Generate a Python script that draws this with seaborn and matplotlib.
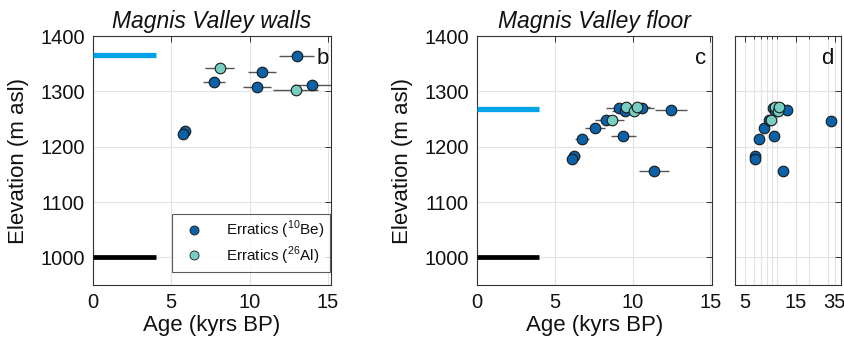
import matplotlib
matplotlib.use("Agg")
import matplotlib.pyplot as plt
from matplotlib.ticker import FixedLocator, NullFormatter
import seaborn as sns
import numpy as np

# ---------------- data ----------------
# Magnis Valley walls
walls_be_age = [5.88, 5.77, 7.73, 10.8, 10.47, 13.0, 13.97]
walls_be_elev = [1228, 1223, 1317, 1335, 1308, 1363, 1311]
walls_be_err = [0.3, 0.3, 0.7, 0.9, 0.9, 1.1, 1.2]
walls_al_age = [8.08, 12.95]
walls_al_elev = [1342, 1303]
walls_al_err = [0.9, 1.45]

# Magnis Valley floor
floor_be_age = [6.24, 6.13, 6.73, 7.56, 8.29, 9.4, 9.1, 9.53, 10.6, 12.46, 11.37, 32.1]
floor_be_elev = [1184, 1178, 1214, 1234, 1248, 1220, 1270, 1264, 1270, 1266, 1156, 1247]
floor_be_err = [0.4, 0.35, 0.45, 0.65, 0.7, 0.8, 0.8, 0.85, 0.75, 1.05, 0.95, 2.0]
floor_al_age = [8.65, 9.58, 10.1, 10.3]
floor_al_elev = [1248, 1272, 1264, 1272]
floor_al_err = [0.8, 0.75, 0.7, 0.8]

# reference lines (elevation, age extent)
walls_blue_line = 1366
floor_blue_line = 1268
black_line = 1000
line_age = [0, 4]

yticks = [1000, 1100, 1200, 1300, 1400]
xticks_lin = [0, 5, 10, 15]
xticks_log = [5, 15, 35]
xminor_log = [6, 7, 8, 9, 10, 20, 30]

BLUE = "#0b62a8"
AQUA = "#78cfc1"
LINE_BLUE = "#00a2e8"
ERR = "#555555"

sns.set_style("white")
plt.rcParams["font.family"] = ["Liberation Sans", "DejaVu Sans"]
plt.rcParams["mathtext.fontset"] = "custom"
plt.rcParams["mathtext.rm"] = "Liberation Sans"
plt.rcParams["text.color"] = "#111111"
plt.rcParams["axes.labelcolor"] = "#111111"
plt.rcParams["xtick.color"] = "#111111"
plt.rcParams["ytick.color"] = "#111111"

W, H = 845, 346
fig = plt.figure(figsize=(W / 100, H / 100), dpi=100)


def fr(l, r, t, b):
    return [l / W, 1 - b / H, (r - l) / W, (b - t) / H]


axb = fig.add_axes(fr(93, 331, 36, 285))
axc = fig.add_axes(fr(477, 712, 36, 285))
axd = fig.add_axes(fr(735, 841, 36, 285))


def style(ax):
    ax.set_ylim(950, 1400)
    ax.set_yticks(yticks)
    ax.grid(True, color="#e3e3e3", lw=0.8)
    ax.set_axisbelow(True)
    for s in ax.spines.values():
        s.set_color("#333333")
        s.set_linewidth(0.8)
    ax.tick_params(direction="in", top=True, right=True, length=4,
                   width=0.7, labelsize=14.5, color="#333333", pad=6)


def draw(ax, be_age, be_elev, be_err, al_age, al_elev, al_err, errbars=True):
    if errbars:
        ax.errorbar(be_age, be_elev, xerr=be_err, fmt="none", ecolor=ERR,
                    elinewidth=1.0, capsize=0, zorder=2)
        ax.errorbar(al_age, al_elev, xerr=al_err, fmt="none", ecolor=ERR,
                    elinewidth=1.0, capsize=0, zorder=2)
    sns.scatterplot(x=be_age, y=be_elev, ax=ax, color=BLUE, s=58,
                    edgecolor="#1a1a1a", linewidth=0.8, zorder=3, legend=False)
    sns.scatterplot(x=al_age, y=al_elev, ax=ax, color=AQUA, s=58,
                    edgecolor="#1a1a1a", linewidth=0.8, zorder=4, legend=False)


# ---- panel b ----
style(axb)
axb.plot(line_age, [walls_blue_line] * 2, color=LINE_BLUE, lw=3.8, solid_capstyle="butt", zorder=3)
axb.plot(line_age, [black_line] * 2, color="black", lw=3.4, solid_capstyle="butt", zorder=3)
draw(axb, walls_be_age, walls_be_elev, walls_be_err, walls_al_age, walls_al_elev, walls_al_err)
axb.set_xlim(0, 15.2)
axb.set_xticks(xticks_lin)
axb.set_xlabel("Age (kyrs BP)", fontsize=16, labelpad=2)
axb.set_ylabel("Elevation (m asl)", fontsize=16, labelpad=8)
axb.set_title("Magnis Valley walls", fontsize=16.5, style="italic", pad=6)
axb.text(0.99, 0.95, "b", transform=axb.transAxes, ha="right", va="top", fontsize=16)
handles = [
    plt.Line2D([], [], marker="o", ls="none", color=BLUE, markeredgecolor="#1a1a1a",
               markeredgewidth=0.6, markersize=6.5),
    plt.Line2D([], [], marker="o", ls="none", color=AQUA, markeredgecolor="#1a1a1a",
               markeredgewidth=0.6, markersize=6.5),
]
leg = axb.legend(handles, ["Erratics ($^{10}$Be)", "Erratics ($^{26}$Al)"],
                 loc="lower right", bbox_to_anchor=(0.995, 0.052), borderaxespad=0,
                 fontsize=11, frameon=True, fancybox=False, handletextpad=1.0,
                 handlelength=2.2, borderpad=0.35, labelspacing=0.2)
leg.get_frame().set_edgecolor("#333333")
leg.get_frame().set_linewidth(0.8)

# ---- panel c ----
style(axc)
axc.plot(line_age, [floor_blue_line] * 2, color=LINE_BLUE, lw=3.8, solid_capstyle="butt", zorder=3)
axc.plot(line_age, [black_line] * 2, color="black", lw=3.4, solid_capstyle="butt", zorder=3)
draw(axc, floor_be_age, floor_be_elev, floor_be_err, floor_al_age, floor_al_elev, floor_al_err)
axc.set_xlim(0, 15.1)
axc.set_xticks(xticks_lin)
axc.set_xlabel("Age (kyrs BP)", fontsize=16, labelpad=2)
axc.set_ylabel("Elevation (m asl)", fontsize=16, labelpad=8)
axc.set_title("Magnis Valley floor", fontsize=16.5, style="italic", pad=6)
axc.text(0.975, 0.95, "c", transform=axc.transAxes, ha="right", va="top", fontsize=16)

# ---- panel d ----
style(axd)
draw(axd, floor_be_age, floor_be_elev, floor_be_err, floor_al_age, floor_al_elev, floor_al_err,
     errbars=False)
axd.set_xscale("log")
axd.set_xlim(4, 40)
axd.xaxis.set_major_locator(FixedLocator(xticks_log))
axd.set_xticklabels([str(t) for t in xticks_log])
axd.xaxis.set_minor_locator(FixedLocator(xminor_log))
axd.xaxis.set_minor_formatter(NullFormatter())
axd.grid(True, which="minor", axis="x", color="#e3e3e3", lw=0.8)
axd.tick_params(which="minor", direction="in", top=True, length=2.5, width=0.6)
axd.set_yticklabels([])
axd.text(0.93, 0.95, "d", transform=axd.transAxes, ha="right", va="top", fontsize=16)

fig.savefig("out.png", dpi=100)
